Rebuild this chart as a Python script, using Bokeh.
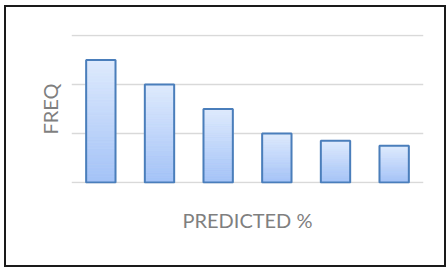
from bokeh.plotting import figure
from bokeh.models import Range1d, FixedTicker, ColumnDataSource
from bokeh.embed import file_html
from bokeh.resources import INLINE

categories = ["1", "2", "3", "4", "5", "6"]
freq = [2.5, 2.0, 1.5, 1.0, 0.85, 0.75]
y_ticks = [0, 1, 2, 3]

TOP_RGB = (0xDE, 0xEA, 0xFD)
BOT_RGB = (0xA3, 0xC2, 0xF7)
N = 40

pos = list(range(len(categories)))
xs, bots, tops, cols = [], [], [], []
for i, v in zip(pos, freq):
    for k in range(N):
        f = (k + 0.5) / N
        rgb = tuple(int(round(b + (t - b) * f)) for b, t in zip(BOT_RGB, TOP_RGB))
        xs.append(i)
        bots.append(v * k / N)
        tops.append(v * (k + 1) / N)
        cols.append("#%02x%02x%02x" % rgb)
strips = ColumnDataSource(dict(x=xs, bottom=bots, top=tops, color=cols))
bars = ColumnDataSource(dict(x=pos, top=freq, name=categories))

p = figure(width=442, height=262, x_range=Range1d(-0.5, len(categories) - 0.5),
           y_range=Range1d(-0.02, 3.02), output_backend="svg", toolbar_location=None,
           min_border_left=65, min_border_right=25, min_border_top=27, min_border_bottom=86,
           margin=(5, 0, 0, 4))
p.styles = {"border": "2px solid #1a1a1a", "box-sizing": "border-box"}
p.outline_line_color = None
p.background_fill_color = "white"
p.border_fill_color = "white"

# soft shadow
p.vbar(x="x", top="top", bottom=-0.03, width=0.53, source=bars,
       fill_color="#c8c8c8", fill_alpha=0.35, line_color=None)
p.vbar(x="x", bottom="bottom", top="top", width=0.5, source=strips,
       fill_color="color", line_color="color", line_width=0.8)
p.vbar(x="x", top="top", bottom=0, width=0.5, source=bars,
       fill_color=None, line_color="#4a7ebb", line_width=2)

p.xaxis.ticker = FixedTicker(ticks=[])
p.yaxis.ticker = FixedTicker(ticks=[])
p.ygrid.ticker = FixedTicker(ticks=y_ticks)
p.ygrid.grid_line_color = "#d9d9d9"
p.ygrid.grid_line_width = 1.5
p.xgrid.grid_line_color = None
p.ygrid.level = "underlay"

for ax in (p.xaxis, p.yaxis):
    ax.axis_line_color = None
    ax.major_tick_line_color = None
    ax.minor_tick_line_color = None
    ax.major_label_standoff = 0
    ax.axis_label_text_font = "Lato"
    ax.axis_label_text_font_style = "normal"
    ax.axis_label_text_font_size = "20px"
    ax.axis_label_text_color = "#7f7f7f"

p.xaxis.axis_label = "PREDICTED %"
p.xaxis.axis_label_standoff = 24
p.yaxis.axis_label = "FREQ"
p.yaxis.axis_label_standoff = 10

open("out.html", "w").write(file_html(p, INLINE))
